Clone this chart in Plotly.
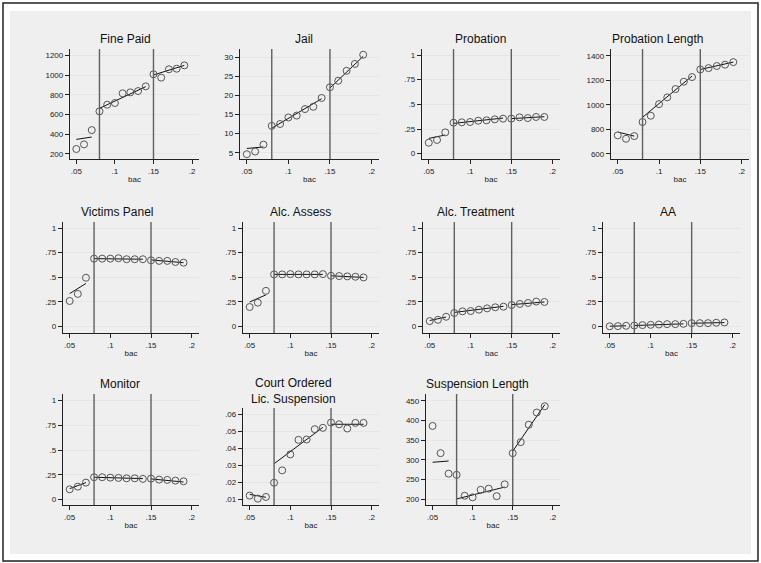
import plotly.graph_objects as go

# Blood-alcohol bins (bac) shared by every panel
bac = [0.05, 0.06, 0.07, 0.08, 0.09, 0.10, 0.11, 0.12, 0.13, 0.14,
       0.15, 0.16, 0.17, 0.18, 0.19]

# Regime boundaries and fit segment endpoints
cutoffs = [0.08, 0.15]
seg_x = [[0.05, 0.07], [0.08, 0.14], [0.15, 0.19]]

titles = ["Fine Paid", "Jail", "Probation", "Probation Length",
          "Victims Panel", "Alc. Assess", "Alc. Treatment", "AA",
          "Monitor", "Court Ordered<br>Lic. Suspension", "Suspension Length"]

# Bin means
fine_paid = [248, 295, 441, 632, 700, 717, 816, 826, 839, 887, 1010, 976, 1061, 1067, 1101]
jail = [4.6, 5.3, 7.1, 12.0, 12.5, 14.2, 14.7, 16.4, 17.0, 19.3, 22.1, 23.8, 26.4, 28.2, 30.6]
probation = [0.111, 0.139, 0.216, 0.314, 0.318, 0.321, 0.334, 0.338, 0.348, 0.355,
             0.355, 0.368, 0.361, 0.372, 0.372]
probation_len = [750, 722, 744, 859, 910, 1005, 1060, 1128, 1188, 1226, 1288, 1299, 1316, 1327, 1348]
victims = [0.259, 0.331, 0.495, 0.689, 0.689, 0.689, 0.693, 0.683, 0.683, 0.683,
           0.672, 0.666, 0.666, 0.655, 0.648]
alc_assess = [0.198, 0.242, 0.362, 0.529, 0.529, 0.532, 0.529, 0.529, 0.529, 0.532,
              0.515, 0.512, 0.509, 0.505, 0.498]
alc_treat = [0.055, 0.068, 0.099, 0.137, 0.154, 0.157, 0.171, 0.184, 0.195, 0.201,
             0.218, 0.229, 0.239, 0.253, 0.249]
aa = [0.002, 0.004, 0.007, 0.010, 0.014, 0.017, 0.020, 0.024, 0.024, 0.027,
      0.034, 0.034, 0.034, 0.038, 0.041]
monitor = [0.104, 0.131, 0.172, 0.226, 0.226, 0.222, 0.219, 0.215, 0.215, 0.209,
           0.212, 0.202, 0.199, 0.192, 0.185]
court_susp = [0.0122, 0.0104, 0.0114, 0.0198, 0.0271, 0.0365, 0.0451, 0.0453, 0.0514, 0.0522,
              0.0553, 0.0543, 0.0518, 0.0551, 0.0551]
susp_len = [386, 317, 265, 262, 209, 205, 224, 227, 208, 238, 317, 345, 389, 420, 436]

# Fitted values at segment endpoints (start, end) for the three regimes
fit_fine_paid = [[346, 370], [663, 884], [1003, 1101]]
fit_jail = [[6.1, 6.5], [11.4, 19.1], [21.9, 30.2]]
fit_probation = [[0.155, 0.189], [0.307, 0.361], [0.355, 0.375]]
fit_probation_len = [[777, 744], [897, 1234], [1288, 1348]]
fit_victims = [[0.334, 0.437], [0.689, 0.683], [0.676, 0.648]]
fit_alc_assess = [[0.249, 0.321], [0.529, 0.529], [0.515, 0.498]]
fit_alc_treat = [[0.061, 0.096], [0.143, 0.205], [0.222, 0.249]]
fit_aa = [[0.003, 0.007], [0.010, 0.027], [0.033, 0.040]]
fit_monitor = [[0.111, 0.172], [0.226, 0.212], [0.209, 0.178]]
fit_court_susp = [[0.0129, 0.0112], [0.0310, 0.0525], [0.0543, 0.0543]]
fit_susp_len = [[294, 297], [201, 231], [322, 440]]

series = [fine_paid, jail, probation, probation_len, victims, alc_assess,
          alc_treat, aa, monitor, court_susp, susp_len]
fits = [fit_fine_paid, fit_jail, fit_probation, fit_probation_len, fit_victims,
        fit_alc_assess, fit_alc_treat, fit_aa, fit_monitor, fit_court_susp, fit_susp_len]

# Y-axis ticks
share_ticks = ([0, 0.25, 0.5, 0.75, 1], ["0", ".25", ".5", ".75", "1"])
yticks = [
    ([200, 400, 600, 800, 1000, 1200], ["200", "400", "600", "800", "1000", "1200"]),
    ([5, 10, 15, 20, 25, 30], ["5", "10", "15", "20", "25", "30"]),
    share_ticks,
    ([600, 800, 1000, 1200, 1400], ["600", "800", "1000", "1200", "1400"]),
    share_ticks, share_ticks, share_ticks, share_ticks, share_ticks,
    ([0.01, 0.02, 0.03, 0.04, 0.05, 0.06], [".01", ".02", ".03", ".04", ".05", ".06"]),
    ([200, 250, 300, 350, 400, 450], ["200", "250", "300", "350", "400", "450"]),
]
xtick_vals = [0.05, 0.10, 0.15, 0.20]
xtick_text = [".05", ".1", ".15", ".2"]

# Layout: plot boxes in pixels (left, right, top, bottom), y ranges, title centres
W, H = 761, 563
boxes = [
    (70, 199, 49, 159), (240, 379, 49, 159), (422, 560, 49, 159), (611, 749, 49, 159),
    (63, 199, 222, 333), (243, 379, 222, 333), (423, 560, 222, 333), (603, 740, 222, 333),
    (63, 199, 394, 505), (243, 379, 408, 505), (426, 560, 394, 505),
]
yranges = [
    [146, 1268], [3.35, 32.1], [-0.054, 1.061], [557, 1455],
    [-0.066, 1.061], [-0.066, 1.061], [-0.066, 1.061], [-0.066, 1.061],
    [-0.054, 1.065], [0.00665, 0.0639], [185.6, 467],
]
xrange_ = [0.0418, 0.2090]
title_x = [125, 304, 481, 657, 117, 300, 476, 668, 120, 293, 477]
title_y = [39, 39, 39, 39, 212, 212, 212, 212, 384, 391, 384]

FONT = "Liberation Sans, Arial, sans-serif"
fig = go.Figure()

for i in range(len(series)):
    xa = "x" if i == 0 else f"x{i + 1}"
    ya = "y" if i == 0 else f"y{i + 1}"
    # fitted segments
    for s in range(3):
        fig.add_trace(go.Scatter(
            x=seg_x[s], y=fits[i][s], mode="lines",
            line=dict(color="#111111", width=1),
            xaxis=xa, yaxis=ya, showlegend=False, hoverinfo="skip"))
    # bin means
    fig.add_trace(go.Scatter(
        x=bac, y=series[i], mode="markers",
        marker=dict(symbol="circle-open", size=7, color="#555555",
                    line=dict(width=1, color="#555555")),
        xaxis=xa, yaxis=ya, showlegend=False))

    l, r, t, b = boxes[i]
    suffix = "" if i == 0 else str(i + 1)
    fig.layout["xaxis" + suffix] = dict(
        domain=[l / W, r / W], range=xrange_, anchor=ya,
        tickvals=xtick_vals, ticktext=xtick_text, ticks="outside", ticklen=4,
        tickcolor="#222", showline=True, linecolor="#222", linewidth=1,
        showgrid=False, zeroline=False, tickfont=dict(size=8, color="#222", family=FONT),
        title=dict(text="bac", font=dict(size=8, color="#222", family=FONT), standoff=1),
        fixedrange=True)
    fig.layout["yaxis" + suffix] = dict(
        domain=[1 - b / H, 1 - t / H], range=yranges[i], anchor=xa,
        tickvals=yticks[i][0], ticktext=yticks[i][1], ticks="outside", ticklen=4,
        tickcolor="#222", showline=True, linecolor="#222", linewidth=1.3,
        showgrid=True, gridcolor="#e6e6e6", gridwidth=1, zeroline=False,
        tickfont=dict(size=8, color="#222", family=FONT), fixedrange=True)

    for c in cutoffs:
        fig.add_shape(type="line", xref=xa, yref=ya + " domain",
                      x0=c, x1=c, y0=0, y1=1,
                      line=dict(color="#606060", width=1.4))
    # panel background
    fig.add_shape(type="rect", xref="paper", yref="paper", layer="below",
                  x0=l / W, x1=r / W, y0=1 - b / H, y1=1 - t / H,
                  line=dict(width=0), fillcolor="white")
    fig.add_annotation(text=titles[i], xref="paper", yref="paper",
                       x=title_x[i] / W, y=1 - title_y[i] / H,
                       showarrow=False, xanchor="center", yanchor="middle",
                       font=dict(size=12, color="#111", family=FONT))

# outer gray region and frame
fig.add_shape(type="rect", xref="paper", yref="paper", layer="below",
              x0=10 / W, x1=751 / W, y0=1 - 554 / H, y1=1 - 11 / H,
              line=dict(width=0), fillcolor="#efefef")
fig.add_shape(type="rect", xref="paper", yref="paper", layer="below",
              x0=3 / W, x1=758 / W, y0=1 - 561 / H, y1=1 - 3 / H,
              line=dict(width=1.5, color="#222"), fillcolor="rgba(0,0,0,0)")

fig.update_layout(width=W, height=H, margin=dict(l=0, r=0, t=0, b=0),
                  paper_bgcolor="white", plot_bgcolor="white",
                  font=dict(family=FONT))

fig.write_html("out.html")
